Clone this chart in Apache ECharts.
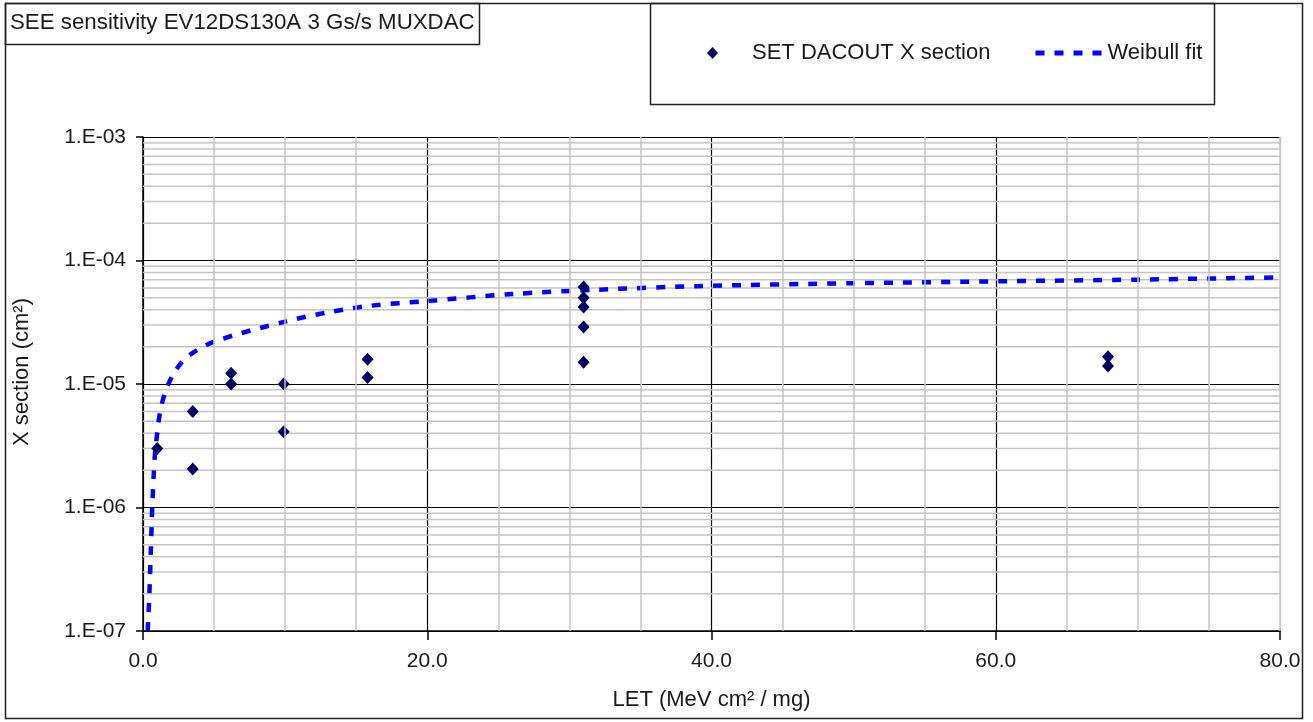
<!DOCTYPE html>
<html>
<head>
<meta charset="utf-8">
<script src="https://cdn.jsdelivr.net/npm/echarts@6/dist/echarts.min.js"></script>
<style>
  html, body { margin: 0; padding: 0; background: #fff; }
  #chart { width: 1313px; height: 722px; }
</style>
</head>
<body>
<div id="chart"></div>
<script>
// measured cross sections (LET, X section)
const letPoints = [1.0, 3.5, 3.5, 6.2, 6.2, 9.9, 9.9, 15.8, 15.8, 31.0, 31.0, 31.0, 31.0, 31.0, 67.9, 67.9]
const xsPoints = [3.0e-6, 6.0e-6, 2.05e-6, 1.22e-5, 1.0e-5, 1.0e-5, 4.1e-6, 1.59e-5, 1.13e-5,
  6.1e-5, 5.0e-5, 4.2e-5, 2.9e-5, 1.5e-5, 1.66e-5, 1.4e-5]

// weibull fit curve
const fitLet = [0.33, 0.45, 0.55, 0.65, 0.75, 0.85, 1.0, 1.2, 1.55, 2.1, 3.0, 5.0, 10, 13, 16, 20, 26, 32, 39, 50, 61, 70, 80]
const fitXs = [1.0e-7, 2.0e-7, 4.5e-7, 1.0e-6, 1.8e-6, 2.8e-6, 4.0e-6, 5.9e-6, 8.5e-6, 1.18e-5, 1.62e-5, 2.2e-5,
  3.2e-5, 3.8e-5, 4.3e-5, 4.7e-5, 5.35e-5, 5.8e-5, 6.2e-5, 6.55e-5, 6.8e-5, 7.0e-5, 7.3e-5]

const yDecades = [1e-7, 1e-6, 1e-5, 1e-4, 1e-3]

const font = 'Liberation Sans, Arial, sans-serif'
const textColor = '#1a1a1a'
const minorColor = '#c4c4c4'

// minor grid lines: every 5 on x, 2..9 inside each decade on y
const minorX = []
for (let v = 5; v < 80; v += 5) {
  if (v % 20 !== 0) minorX.push({ xAxis: v })
}
minorX.push({ xAxis: 80 })
const minorY = []
for (let d = 0; d < yDecades.length - 1; d++) {
  for (let k = 2; k <= 9; k++) minorY.push(+(yDecades[d] * k).toPrecision(3))
}

const gridSeries = minorY.map((v) => ({
  type: 'line',
  data: [[0, v], [80, v]],
  silent: true,
  symbol: 'none',
  z: 1,
  lineStyle: { color: minorColor, width: 1.5 },
  tooltip: { show: false }
}))

const chart = echarts.init(document.getElementById('chart'))

const option = {
  animation: false,
  backgroundColor: '#fff',
  textStyle: { fontFamily: font },
  title: {
    text: 'SEE sensitivity EV12DS130A 3 Gs/s MUXDAC',
    left: 5,
    top: 10,
    padding: [2, 5],
    textStyle: { fontFamily: font, fontSize: 22.3, fontWeight: 'normal', color: textColor }
  },
  legend: [
    {
      data: ['SET DACOUT X section'],
      left: 702,
      top: 37,
      icon: 'diamond',
      itemWidth: 11,
      itemHeight: 12,
      textStyle: { fontFamily: font, fontSize: 22, color: textColor, padding: [0, 0, 0, 29] }
    },
    {
      data: ['Weibull fit'],
      left: 1028,
      top: 37,
      itemWidth: 67,
      itemHeight: 14,
      itemStyle: { opacity: 0, borderWidth: 0 },
      lineStyle: { width: 5, type: [9, 10] },
      textStyle: { fontFamily: font, fontSize: 22, color: textColor }
    }
  ],
  grid: { left: 143, right: 33, top: 137, bottom: 91 },
  xAxis: {
    type: 'value',
    min: 0,
    max: 80,
    interval: 20,
    name: 'LET (MeV cm² / mg)',
    nameLocation: 'middle',
    nameGap: 58,
    nameTextStyle: { fontFamily: font, fontSize: 22, color: textColor },
    axisLine: { onZero: false, lineStyle: { color: '#000', width: 1.5 } },
    axisTick: { show: true, length: 9, lineStyle: { color: '#000', width: 1.5 } },
    axisLabel: {
      margin: 20,
      fontFamily: font,
      fontSize: 21,
      color: textColor,
      formatter: (v) => v.toFixed(1)
    },
    splitLine: { show: true, lineStyle: { color: ['#000', '#000', '#000', '#000', minorColor], width: 1.2 } }
  },
  yAxis: {
    type: 'log',
    logBase: 10,
    min: 1e-7,
    max: 1e-3,
    name: 'X section (cm²)',
    nameLocation: 'middle',
    nameGap: 110,
    nameTextStyle: { fontFamily: font, fontSize: 22, color: textColor, padding: [0, 0, 0, 24] },
    axisLine: { lineStyle: { color: '#000', width: 1.5 } },
    axisTick: { show: true, length: 7, lineStyle: { color: '#000', width: 1.5 } },
    axisLabel: {
      margin: 17,
      fontFamily: font,
      fontSize: 21,
      color: textColor,
      formatter: (v) => {
        const e = Math.round(Math.log10(v))
        return '1.E' + (e < 0 ? '-' : '+') + String(Math.abs(e)).padStart(2, '0')
      }
    },
    splitLine: { show: true, lineStyle: { color: '#000', width: 1.2 } }
  },
  series: gridSeries.concat([
    {
      // vertical minor grid
      type: 'line',
      data: [],
      silent: true,
      z: 1,
      markLine: {
        silent: true,
        symbol: ['none', 'none'],
        label: { show: false },
        lineStyle: { color: minorColor, type: 'solid', width: 1.5 },
        data: minorX
      }
    },
    {
      name: 'Weibull fit',
      type: 'line',
      data: fitLet.map((x, i) => [x, fitXs[i]]),
      showSymbol: false,
      symbol: 'none',
      smooth: 0.3,
      z: 3,
      color: '#0000ff',
      lineStyle: { color: '#0000ff', width: 4.5, type: [9, 10] }
    },
    {
      name: 'SET DACOUT X section',
      type: 'scatter',
      data: letPoints.map((x, i) => [x, xsPoints[i]]),
      symbol: 'diamond',
      symbolSize: [12, 13],
      z: 4,
      itemStyle: { color: '#000066', opacity: 1 }
    }
  ]),
  graphic: [
    {
      type: 'rect',
      shape: { x: 5.5, y: 3.5, width: 1297, height: 715 },
      style: { fill: 'none', stroke: '#222', lineWidth: 1.5 },
      z: -1
    },
    {
      type: 'rect',
      shape: { x: 5.5, y: 3.5, width: 474, height: 41 },
      style: { fill: 'none', stroke: '#222', lineWidth: 1.5 }
    },
    {
      type: 'rect',
      shape: { x: 650.5, y: 3.5, width: 564, height: 101 },
      style: { fill: 'none', stroke: '#222', lineWidth: 1.5 }
    }
  ]
}

chart.setOption(option)
window.addEventListener('resize', function () {
  chart.resize()
})
</script>
</body>
</html>
